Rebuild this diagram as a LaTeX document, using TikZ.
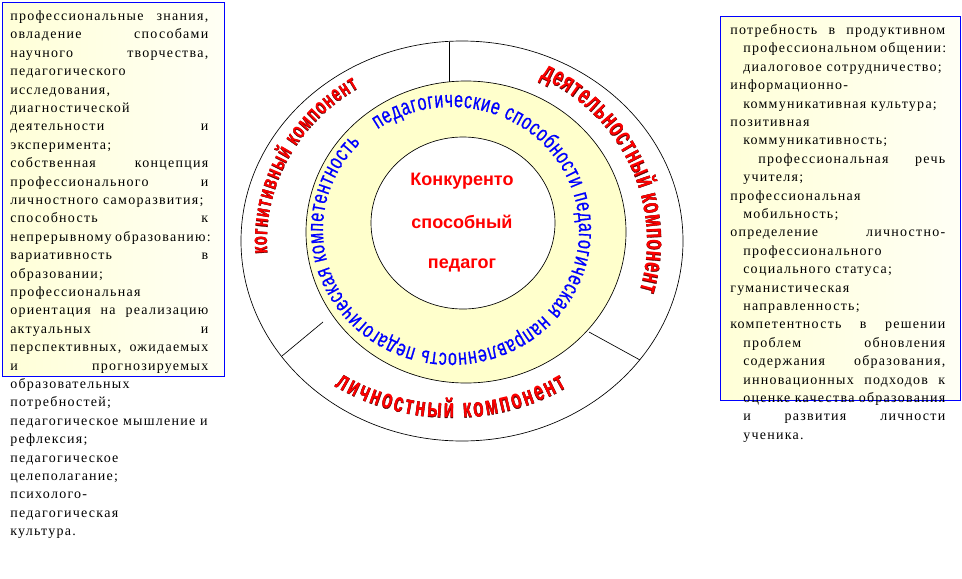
\documentclass[tikz,border=0pt]{standalone}
\usepackage{fontspec}
\setmainfont{Liberation Serif}
\setsansfont{Liberation Sans}
\newfontfamily\boxfont[LetterSpace=9]{Liberation Serif}
\newfontfamily\wordart[FakeStretch=0.64]{Liberation Sans}
\newfontfamily\wordedge[FakeStretch=0.64,BoldFeatures={FakeBold=1.2}]{Liberation Sans}
\newfontfamily\ringfont[FakeStretch=0.7,FakeBold=0.6]{Liberation Sans}
\usetikzlibrary{decorations.text}

\definecolor{boxblue}{RGB}{0,0,255}
\definecolor{ringyellow}{RGB}{255,255,204}
\definecolor{boxyellow}{RGB}{255,255,215}
\definecolor{wordred}{RGB}{255,0,0}
\definecolor{wordedge}{RGB}{90,0,0}

% justified line of a given width
\newcommand{\jl}[2][148.5pt]{\makebox[#1][s]{\spaceskip=0.25em plus 1fil\relax#2}}
\newcommand{\ind}{\hspace*{9.75pt}}

\begin{document}
\begin{tikzpicture}[x=0.75pt,y=0.75pt,
  ring/.style={draw=black,line width=0.5pt},
  infobox/.style={draw=boxblue,line width=0.75pt,left color=boxyellow,right color=yellow!4},
  boxtext/.style={inner sep=0pt,anchor=base west,align=left,
    font=\boxfont\fontsize{10.5}{13.8}\selectfont},
  core/.style={text=wordred,font=\sffamily\bfseries\fontsize{13.5}{16}\selectfont},
  edgetext/.style 2 args={decorate,decoration={text along path,text align={fit to path},
    text color=wordedge,text={|\wordedge\bfseries\fontsize{#1}{#1}\selectfont|#2}}},
  comptext/.style 2 args={decorate,decoration={text along path,text align={fit to path},
    text color=wordred,text={|\wordart\bfseries\fontsize{#1}{#1}\selectfont|#2}}},
  ringtext/.style={decorate,decoration={text along path,text align={fit to path},
    text color=boxblue,text={|\ringfont\fontsize{17}{17}\selectfont|#1}}}]
\useasboundingbox (0,0) rectangle (962,-578);

% text boxes
\draw[infobox] (2,-2) rectangle (224,-376);
\draw[infobox] (720,-16) rectangle (960,-400);

\node[boxtext,text width=148.5pt] (knowledge) at (10,-20.5) {%
\jl{профессиональные знания,}\\
\jl{овладение способами}\\
\jl{научного творчества,}\\
педагогического\\
исследования,\\
диагностической\\
\jl{деятельности и}\\
эксперимента;\\
\jl{собственная концепция}\\
\jl{профессионального и}\\
личностного саморазвития;\\
\jl{способность к}\\
\jl{непрерывному образованию:}\\
\jl{вариативность в}\\
образовании;\\
профессиональная\\
\jl{ориентация на реализацию}\\
\jl{актуальных и}\\
\jl{перспективных, ожидаемых}\\
\jl{и прогнозируемых}\\
образовательных\\
потребностей;\\
педагогическое мышление и\\
рефлексия;\\
педагогическое\\
целеполагание;\\
психолого-\\
педагогическая\\
культура.};

\node[boxtext,text width=161.25pt] (activity) at (730,-34.5) {%
\jl[161.25pt]{потребность в продуктивном}\\
\ind\jl[151.5pt]{профессиональном общении:}\\
\ind диалоговое сотрудничество;\\
информационно-\\
\ind коммуникативная культура;\\
позитивная\\
\ind коммуникативность;\\
\hspace*{21pt}\jl[140.25pt]{профессиональная речь}\\
\ind учителя;\\
профессиональная\\
\ind мобильность;\\
\jl[161.25pt]{определение личностно-}\\
\ind профессионального\\
\ind социального статуса;\\
гуманистическая\\
\ind направленность;\\
\jl[161.25pt]{компетентность в решении}\\
\ind\jl[151.5pt]{проблем обновления}\\
\ind\jl[151.5pt]{содержания образования,}\\
\ind\jl[151.5pt]{инновационных подходов к}\\
\ind\jl[151.5pt]{оценке качества образования}\\
\ind\jl[151.5pt]{и развития личности}\\
\ind ученика.};

% rings
\draw[ring,fill=white] (462,-241) ellipse [x radius=221,y radius=200];
\draw[ring] (449,-42) -- (449,-82);
\draw[ring] (282,-356) -- (323,-322);
\draw[ring] (589,-332) -- (640,-360);
\draw[ring,fill=ringyellow] (466,-232) ellipse [x radius=160,y radius=151];
\draw[ring,fill=white] (463,-223) ellipse [x radius=92,y radius=86];

% components
\begin{scope}[shift={(462,-241)}]
  \path[edgetext={17}{когнитивный компонент}] (184:195 and 180) arc [start angle=184,end angle=122,x radius=195,y radius=180];
  \path[comptext={17}{когнитивный компонент}] (184:195 and 180) arc [start angle=184,end angle=122,x radius=195,y radius=180];
  \path[edgetext={20}{деятельностный компонент}] (65:185 and 180) arc [start angle=65,end angle=-16,x radius=185,y radius=180];
  \path[comptext={20}{деятельностный компонент}] (65:185 and 180) arc [start angle=65,end angle=-16,x radius=185,y radius=180];
\end{scope}
\begin{scope}[shift={(452,-241)}]
  \path[edgetext={20}{личностный компонент}] (235:205 and 177) arc [start angle=235,end angle=304,x radius=205,y radius=177];
  \path[comptext={20}{личностный компонент}] (235:205 and 177) arc [start angle=235,end angle=304,x radius=205,y radius=177];
\end{scope}
\begin{scope}[shift={(451,-230)}]
  \path[ringtext=педагогические способности педагогическая направленность педагогическая компетентность]
    (125:128 and 123) arc [start angle=125,end angle=-225,x radius=128,y radius=123];
\end{scope}

% centre
\node[core] (line1) at (462,-181) {Конкуренто};
\node[core] (line2) at (462,-222) {способный};
\node[core] (line3) at (462,-265) {педагог};
\end{tikzpicture}
\end{document}
